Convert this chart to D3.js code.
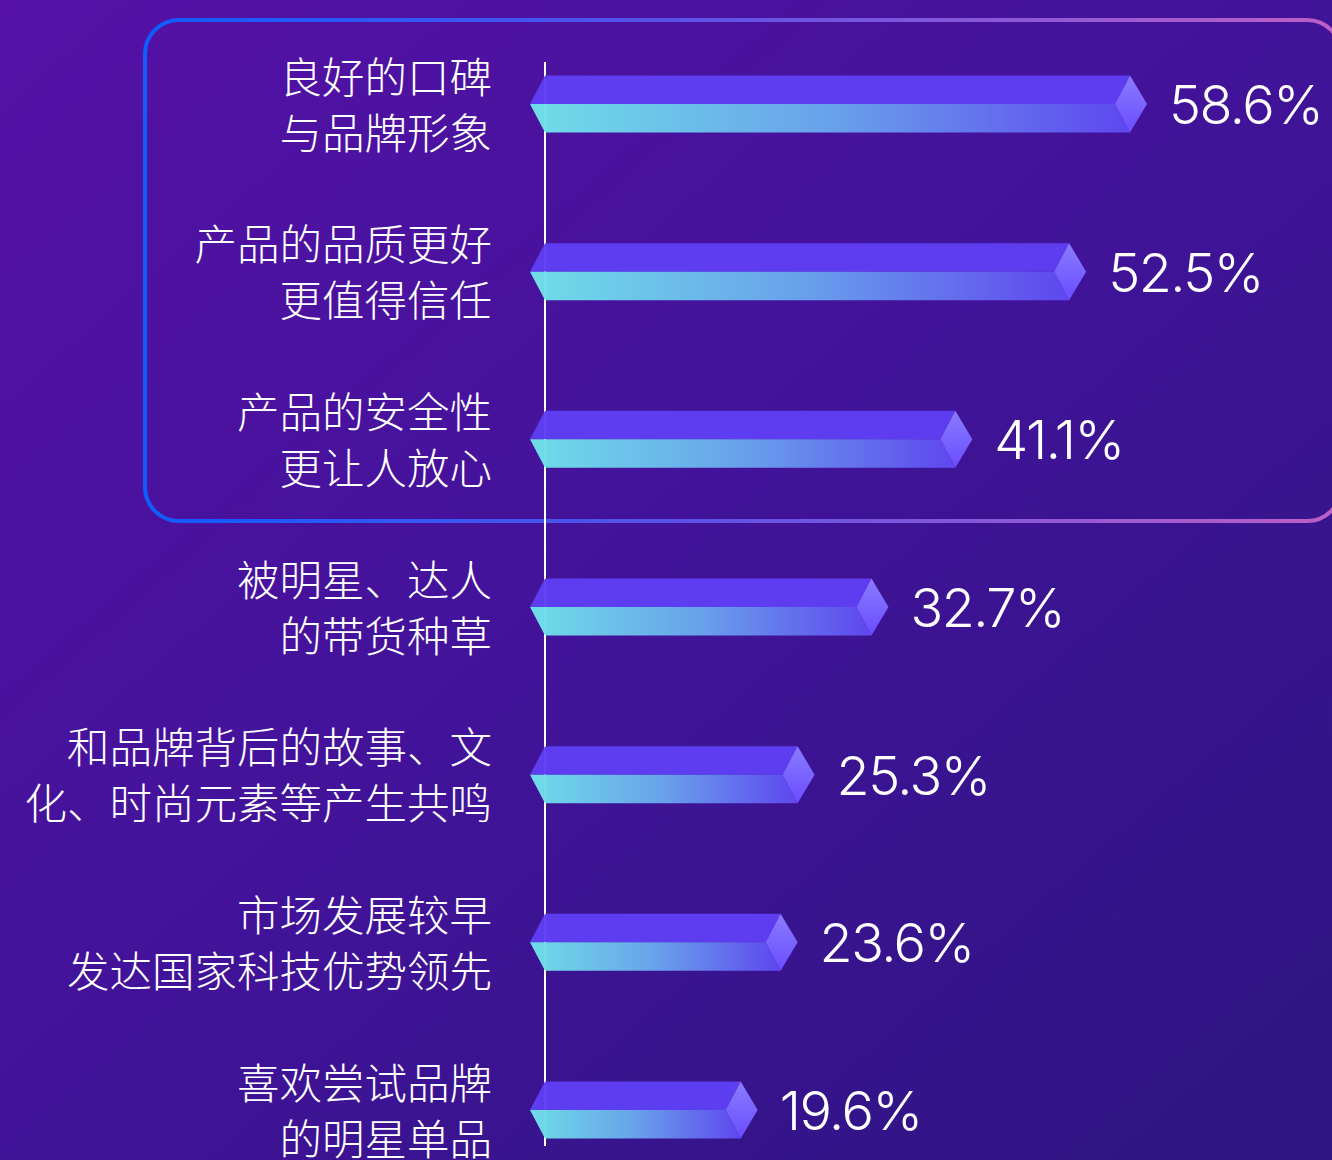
<!DOCTYPE html>
<html>
<head>
<meta charset="utf-8">
<script src="https://cdn.jsdelivr.net/npm/d3@7"></script>
<style>
  html, body { margin: 0; padding: 0; background: #3d1396; }
  svg { display: block; }
</style>
</head>
<body>
<div id="chart"></div>
<script>
// reasons chart - horizontal prism bars
var line1 = ["良好的口碑", "产品的品质更好", "产品的安全性", "被明星、达人", "和品牌背后的故事、文", "市场发展较早", "喜欢尝试品牌"];
var line2 = ["与品牌形象", "更值得信任", "更让人放心", "的带货种草", "化、时尚元素等产生共鸣", "发达国家科技优势领先", "的明星单品"];
var values = [58.6, 52.5, 41.1, 32.7, 25.3, 23.6, 19.6];

(function () {
    "use strict";
    var w = 1332, h = 1160, half = 28.5, tip = 15, capOut = 17;

    var svg = d3.select('#chart').append('svg').attr('width', w).attr('height', h);
    var defs = svg.append('defs');

    var bg = defs.append('linearGradient').attr('id', 'bg')
        .attr('x1', 0).attr('y1', 0).attr('x2', 1).attr('y2', 1);
    bg.append('stop').attr('offset', 0).attr('stop-color', '#5511a6');
    bg.append('stop').attr('offset', 0.5).attr('stop-color', '#411399');
    bg.append('stop').attr('offset', 1).attr('stop-color', '#2c1580');

    var box = defs.append('linearGradient').attr('id', 'box')
        .attr('gradientUnits', 'userSpaceOnUse')
        .attr('x1', 143).attr('y1', 0).attr('x2', 1332).attr('y2', 0);
    box.append('stop').attr('offset', 0).attr('stop-color', '#0f5cff');
    box.append('stop').attr('offset', 0.45).attr('stop-color', '#5a52e8');
    box.append('stop').attr('offset', 1).attr('stop-color', '#bd5fc6');

    var low = defs.append('linearGradient').attr('id', 'low')
        .attr('x1', 0).attr('y1', 0).attr('x2', 1).attr('y2', 0);
    low.append('stop').attr('offset', 0).attr('stop-color', '#70e4ea');
    low.append('stop').attr('offset', 0.5).attr('stop-color', '#6aa6ee');
    low.append('stop').attr('offset', 1).attr('stop-color', '#6048f2');

    var cap = defs.append('linearGradient').attr('id', 'cap')
        .attr('x1', 0).attr('y1', 0).attr('x2', 0).attr('y2', 1);
    cap.append('stop').attr('offset', 0).attr('stop-color', '#8a7cff');
    cap.append('stop').attr('offset', 1).attr('stop-color', '#6a4cff');

    svg.append('rect').attr('width', w).attr('height', h).attr('fill', 'url(#bg)');

    var x = d3.scaleLinear().domain([0, 60]).range([545, 1144]);
    var y = d3.scalePoint().domain(d3.range(values.length)).range([104, 1110]);

    // highlight box round the first three rows
    svg.append('rect')
        .attr('x', 145).attr('y', 20).attr('width', 1196).attr('height', 501)
        .attr('rx', 34).attr('fill', 'none')
        .attr('stroke', 'url(#box)').attr('stroke-width', 4);

    // axis line
    svg.append('line')
        .attr('x1', x(0)).attr('x2', x(0)).attr('y1', 62).attr('y2', 1146)
        .attr('stroke', '#ffffff').attr('stroke-width', 2);

    var rows = svg.selectAll('g.row').data(values).enter().append('g')
        .attr('class', 'row')
        .attr('transform', function (d, i) { return 'translate(0,' + y(i) + ')'; });

    function pts(arr) { return arr.map(function (p) { return p.join(','); }).join(' '); }

    // upper face
    rows.append('polygon')
        .attr('points', function (d) {
            var x0 = x(0), x1 = x(d);
            return pts([[x0 - tip, 0], [x0, -half], [x1, -half], [x1 - tip, 0]]);
        })
        .attr('fill', '#5f3ff4').attr('fill-opacity', 0.97);

    // lower face
    rows.append('polygon')
        .attr('points', function (d) {
            var x0 = x(0), x1 = x(d);
            return pts([[x0 - tip, 0], [x1 - tip, 0], [x1, half], [x0, half]]);
        })
        .attr('fill', 'url(#low)').attr('fill-opacity', 0.97);

    // end cap
    rows.append('polygon')
        .attr('points', function (d) {
            var x1 = x(d);
            return pts([[x1 - tip, 0], [x1, -half], [x1 + capOut, 0], [x1, half]]);
        })
        .attr('fill', 'url(#cap)');

    // value labels
    rows.append('text')
        .text(function (d) { return d.toFixed(1) + '%'; })
        .attr('x', function (d) { return x(d) + capOut + 22; })
        .attr('y', 20)
        .attr('fill', '#ffffff')
        .attr('font-family', 'Inter, Roboto, sans-serif')
        .attr('font-weight', 300)
        .attr('font-size', 54)
        .attr('letter-spacing', -1.5);

    // category labels, two lines each
    var lab = { 'x': 492, 'dominant-baseline': 'central', 'text-anchor': 'end', 'fill': '#ffffff',
        'font-family': '"Noto Sans CJK SC", sans-serif', 'font-weight': 300, 'font-size': 42.5 };
    var t1 = rows.append('text').text(function (d, i) { return line1[i]; }).attr('y', -30);
    var t2 = rows.append('text').text(function (d, i) { return line2[i]; }).attr('y', 26);
    Object.keys(lab).forEach(function (k) { t1.attr(k, lab[k]); t2.attr(k, lab[k]); });
}());
</script>
</body>
</html>
